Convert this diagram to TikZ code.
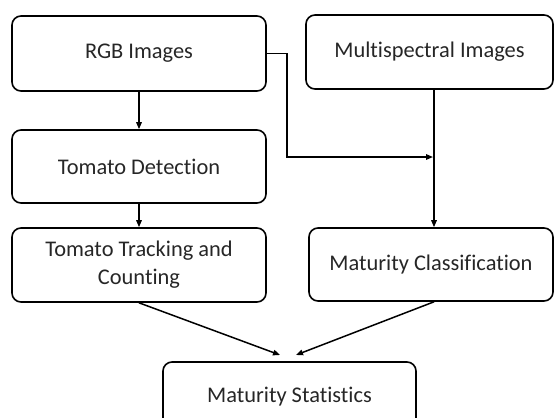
\documentclass[tikz,border=0pt]{standalone}
\usepackage{fontspec}
\setmainfont[Ligatures=NoCommon]{Carlito}
\usetikzlibrary{arrows.meta}
\begin{document}
\begin{tikzpicture}[x=1pt,y=-1pt,
  box/.style={draw=black, line width=1.6pt, rounded corners=9pt, align=center,
    inner sep=0pt, font=\fontsize{22.4}{28}\selectfont, text=black!85},
  arr/.style={line width=1.5pt, -{Triangle[length=7pt,width=5.5pt]}}]
\clip (0,0) rectangle (555,418);
\useasboundingbox (0,0) rectangle (555,418);
\node[box, minimum width=254pt, minimum height=75pt] (rgb) at (139,53.5) {RGB Images};
\node[box, minimum width=247pt, minimum height=74pt] (multi) at (429.5,52) {Multispectral Images};
\node[box, minimum width=254pt, minimum height=73pt] (det) at (139,166.5) {Tomato Detection};
\node[box, minimum width=254pt, minimum height=74pt] (track) at (139,265) {Tomato Tracking and\\Counting};
\node[box, minimum width=244pt, minimum height=73pt] (cls) at (431,264.5) {Maturity Classification};
\node[box, minimum width=253pt, minimum height=69pt] (stats) at (289.5,396.5) {Maturity Statistics};
\coordinate (vx) at (434,0);
\coordinate (ex) at (287,0);
\coordinate (j) at (433,157);
\coordinate (s1) at (280,355);
\coordinate (s2) at (296,355);
\draw[arr] (rgb.south) -- (det.north);
\draw[arr] (det.south) -- (track.north);
\draw[arr] (multi.south -| vx) -- (cls.north -| vx);
\draw[arr] (rgb.east) -- (rgb.east -| ex) |- (j);
\draw[arr] (track.south) -- (s1);
\draw[arr] (cls.south -| vx) -- (s2);
\end{tikzpicture}
\end{document}
